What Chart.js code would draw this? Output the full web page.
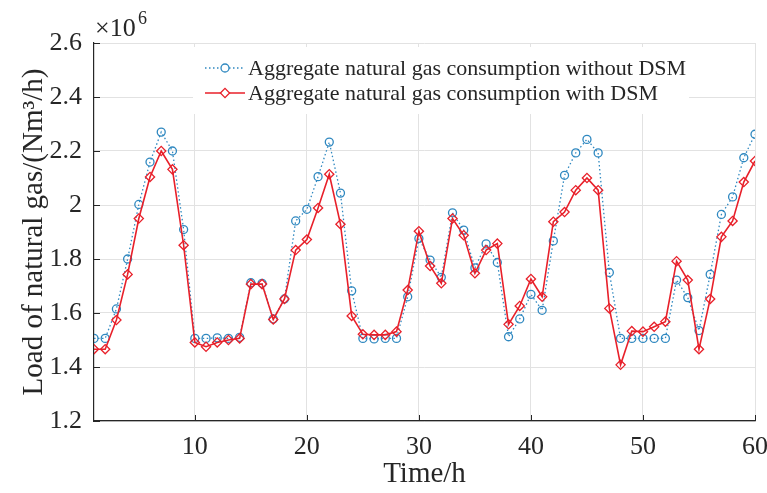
<!DOCTYPE html>
<html>
<head>
<meta charset="utf-8">
<script src="https://cdn.jsdelivr.net/npm/chart.js@4.4.1/dist/chart.umd.min.js"></script>
<style>
  html, body { margin: 0; padding: 0; background: #fff; }
  #wrap { width: 767px; height: 493px; }
</style>
</head>
<body>
<div id="wrap"><canvas id="myChart"></canvas></div>
<script>
const hours = [
  1, 2, 3, 4, 5, 6, 7, 8, 9, 10, 11, 12, 13, 14, 15, 16, 17, 18, 19, 20,
  21, 22, 23, 24, 25, 26, 27, 28, 29, 30, 31, 32, 33, 34, 35, 36, 37, 38, 39, 40,
  41, 42, 43, 44, 45, 46, 47, 48, 49, 50, 51, 52, 53, 54, 55, 56, 57, 58, 59, 60,
];
// values in units of 10^6 Nm3/h
const withoutDSM = [
  1.506, 1.506, 1.615, 1.8, 2.002, 2.159, 2.27, 2.2, 1.909, 1.506,
  1.506, 1.508, 1.506, 1.51, 1.712, 1.71, 1.578, 1.652, 1.941, 1.984,
  2.105, 2.233, 2.044, 1.682, 1.506, 1.504, 1.506, 1.506, 1.66, 1.876,
  1.796, 1.732, 1.971, 1.907, 1.767, 1.856, 1.787, 1.512, 1.578, 1.669,
  1.61, 1.867, 2.11, 2.193, 2.243, 2.193, 1.75, 1.506, 1.506, 1.506,
  1.506, 1.506, 1.722, 1.657, 1.535, 1.743, 1.965, 2.03, 2.175, 2.262,
];
const withDSM = [
  1.466, 1.466, 1.574, 1.743, 1.95, 2.104, 2.2, 2.132, 1.851, 1.491,
  1.475, 1.491, 1.5, 1.506, 1.707, 1.707, 1.576, 1.652, 1.833, 1.872,
  1.989, 2.114, 1.929, 1.589, 1.521, 1.519, 1.519, 1.531, 1.685, 1.903,
  1.774, 1.71, 1.95, 1.888, 1.747, 1.833, 1.857, 1.558, 1.626, 1.726,
  1.66, 1.938, 1.974, 2.055, 2.1, 2.055, 1.617, 1.408, 1.533, 1.531,
  1.549, 1.568, 1.792, 1.722, 1.466, 1.652, 1.882, 1.941, 2.085, 2.163,
];
const xTicks = [10, 20, 30, 40, 50, 60];
const yTicks = [1.2, 1.4, 1.6, 1.8, 2, 2.2, 2.4, 2.6];
const seriesNames = [
  "Aggregate natural gas consumption without DSM",
  "Aggregate natural gas consumption with DSM",
];

const serif = "'Liberation Serif', 'Times New Roman', serif";
const axisColor = "#262626";
const gridColor = "#e2e2e2";
const blue = "#2f88c0";
const red = "#e8202a";

// inward tick marks like matlab + the x10^6 exponent label
const axisExtras = {
  id: "axisExtras",
  afterDraw(chart) {
    const { ctx, chartArea, scales } = chart;
    ctx.save();
    ctx.strokeStyle = axisColor;
    ctx.lineWidth = 1;
    ctx.beginPath();
    xTicks.forEach((v) => {
      const px = Math.round(scales.x.getPixelForValue(v)) + 0.5;
      ctx.moveTo(px, chartArea.bottom);
      ctx.lineTo(px, chartArea.bottom - 6);
    });
    yTicks.forEach((v) => {
      const py = Math.round(scales.y.getPixelForValue(v)) + 0.5;
      ctx.moveTo(chartArea.left, py);
      ctx.lineTo(chartArea.left + 6, py);
    });
    ctx.stroke();

    ctx.fillStyle = axisColor;
    ctx.textBaseline = "alphabetic";
    ctx.textAlign = "left";
    ctx.font = "26px " + serif;
    ctx.fillText("\u00d710", chartArea.left + 1, chartArea.top - 7);
    ctx.font = "18px " + serif;
    ctx.fillText("6", chartArea.left + 44, chartArea.top - 19);
    ctx.restore();
  },
};

// legend sits inside the axes with a white box, no border
const innerLegend = {
  id: "innerLegend",
  afterDatasetsDraw(chart) {
    const { ctx } = chart;
    const box = { x: 193, y: 47, w: 496, h: 67 };
    ctx.save();
    ctx.fillStyle = "#fff";
    ctx.fillRect(box.x, box.y, box.w, box.h);
    chart.data.datasets.forEach((ds, i) => {
      const y = 68 + i * 25;
      ctx.strokeStyle = ds.borderColor;
      ctx.lineWidth = ds.borderWidth;
      ctx.setLineDash(ds.borderDash || []);
      ctx.beginPath();
      ctx.moveTo(205, y);
      ctx.lineTo(245, y);
      ctx.stroke();
      ctx.setLineDash([]);
      ctx.fillStyle = "#fff";
      ctx.strokeStyle = ds.pointBorderColor;
      ctx.lineWidth = ds.pointBorderWidth;
      Chart.helpers.drawPoint(
        ctx,
        {
          pointStyle: ds.pointStyle,
          radius: ds.pointRadius,
          rotation: 0,
          borderWidth: ds.pointBorderWidth,
        },
        225,
        y
      );
      ctx.fillStyle = axisColor;
      ctx.font = "22px " + serif;
      ctx.textBaseline = "middle";
      ctx.textAlign = "left";
      ctx.fillText(seriesNames[i], 248, y + 1);
    });
    ctx.restore();
  },
};

const ctx = document.getElementById("myChart").getContext("2d");
const myChart = new Chart(ctx, {
  type: "line",
  data: {
    labels: hours,
    datasets: [
      {
        label: seriesNames[0],
        data: withoutDSM,
        borderColor: blue,
        backgroundColor: "rgba(0,0,0,0)",
        borderWidth: 1.3,
        borderDash: [1.5, 2.5],
        pointStyle: "circle",
        pointRadius: 4,
        pointBorderWidth: 1.3,
        pointBorderColor: blue,
        pointBackgroundColor: "rgba(0,0,0,0)",
        tension: 0,
        order: 1,
      },
      {
        label: seriesNames[1],
        data: withDSM,
        borderColor: red,
        backgroundColor: "rgba(0,0,0,0)",
        borderWidth: 1.6,
        pointStyle: "rectRot",
        pointRadius: 4.6,
        pointBorderWidth: 1.3,
        pointBorderColor: red,
        pointBackgroundColor: "rgba(0,0,0,0)",
        tension: 0,
        order: 0,
      },
    ],
  },
  options: {
    responsive: true,
    maintainAspectRatio: false,
    animation: false,
    layout: { padding: { top: 43, right: 0, left: 0, bottom: 0 } },
    plugins: {
      legend: { display: false },
      tooltip: { enabled: false },
    },
    scales: {
      x: {
        type: "linear",
        min: 1,
        max: 60,
        afterBuildTicks: (scale) => {
          scale.ticks = xTicks.map((v) => ({ value: v }));
        },
        afterFit: (scale) => {
          scale.height = 72;
          scale.paddingRight = 12;
        },
        grid: { color: gridColor, drawTicks: false },
        border: { color: axisColor, width: 1.2 },
        ticks: {
          color: axisColor,
          padding: 11,
          maxRotation: 0,
          font: { family: serif, size: 26 },
        },
        title: {
          display: true,
          text: "Time/h",
          color: axisColor,
          font: { family: serif, size: 29 },
          padding: { top: 0, bottom: 1 },
        },
      },
      y: {
        min: 1.2,
        max: 2.6,
        afterBuildTicks: (scale) => {
          scale.ticks = yTicks.map((v) => ({ value: v }));
        },
        afterFit: (scale) => {
          scale.width = 94;
        },
        grid: { color: gridColor, drawTicks: false },
        border: { color: axisColor, width: 1.2 },
        ticks: {
          color: axisColor,
          padding: 12,
          font: { family: serif, size: 26 },
          callback: (v) => String(Math.round(v * 10) / 10),
        },
        title: {
          display: true,
          text: "Load of natural gas/(Nm\u00b3/h)",
          color: axisColor,
          font: { family: serif, size: 29 },
          padding: { top: 17, bottom: 0 },
        },
      },
    },
  },
  plugins: [axisExtras, innerLegend],
});
</script>
</body>
</html>
